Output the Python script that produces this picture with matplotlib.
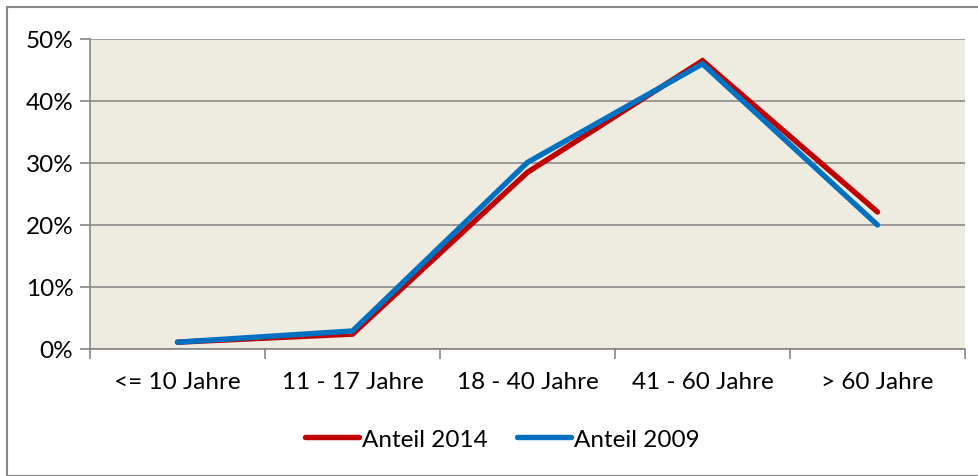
import matplotlib
matplotlib.use("Agg")
import matplotlib.pyplot as plt
from matplotlib.patches import Rectangle
from matplotlib.ticker import FixedLocator, PercentFormatter

categories = ["<= 10 Jahre", "11 - 17 Jahre", "18 - 40 Jahre", "41 - 60 Jahre", "> 60 Jahre"]
anteil_2014 = [0.011, 0.024, 0.285, 0.465, 0.221]
anteil_2009 = [0.011, 0.029, 0.301, 0.460, 0.200]
y_ticks = [0, 0.1, 0.2, 0.3, 0.4, 0.5]

plt.rcParams['font.family'] = ['Lato', 'DejaVu Sans']
FS = 17.5
W, H = 979, 477
fig = plt.figure(figsize=(W/100, H/100), dpi=100)
ax = fig.add_axes([90/W, 1-350/H, (965-90)/W, (350-40)/H])
ax.set_facecolor('#EEEBE0')

x = list(range(len(categories)))
ax.plot(x, anteil_2014, color='#C00000', lw=3.9, solid_capstyle='round', solid_joinstyle='miter', label='Anteil 2014', zorder=3)
ax.plot(x, anteil_2009, color='#0070C0', lw=3.9, solid_capstyle='round', solid_joinstyle='miter', label='Anteil 2009', zorder=4)

ax.set_xlim(-0.5, len(categories)-0.5)
ax.set_ylim(0, 0.5)
ax.yaxis.set_major_locator(FixedLocator(y_ticks))
ax.yaxis.set_major_formatter(PercentFormatter(1.0, decimals=0))
ax.grid(axis='y', color='#8C8C8C', lw=1.2)
ax.set_axisbelow(True)

ax.set_xticks(x)
ax.set_xticklabels(categories)
ax.set_xticks([i - 0.5 for i in range(len(categories)+1)], minor=True)
ax.tick_params(axis='x', which='major', length=0, pad=16, labelsize=FS, colors='black')
ax.tick_params(axis='x', which='minor', length=7, width=1.2, color='#868686')
ax.tick_params(axis='y', length=7, width=1.2, color='#868686', labelsize=FS, pad=5)

for s in ['top', 'right']:
    ax.spines[s].set_visible(False)
for s in ['left', 'bottom']:
    ax.spines[s].set_color('#868686')
    ax.spines[s].set_linewidth(1.2)

leg = fig.legend(loc='center', bbox_to_anchor=(502/W, 1-440/H), ncol=2, frameon=False,
                 fontsize=FS, handlelength=2.25, handletextpad=0.1, columnspacing=1.2)

fig.patches.append(Rectangle((7/W, 0), 1, 1-8/H, transform=fig.transFigure,
                             fill=False, edgecolor='#868686', lw=1.5))

fig.savefig('out.png', dpi=100)
